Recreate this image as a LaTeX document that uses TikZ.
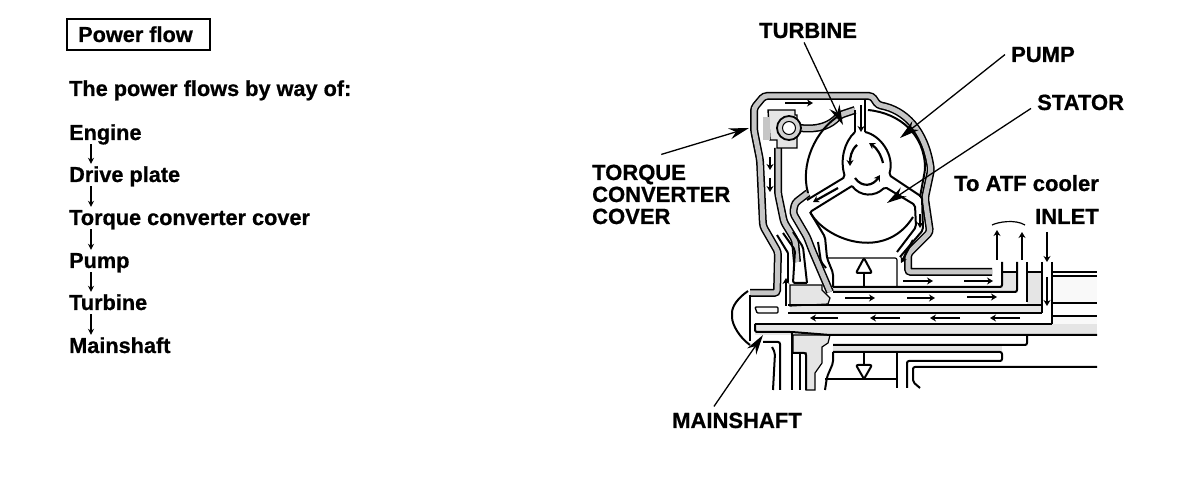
\documentclass[tikz,border=0pt]{standalone}
\usepackage{fontspec}
\setmainfont{Liberation Sans}[BoldFeatures={FakeBold=0.7}]
\usetikzlibrary{arrows.meta}

\begin{document}
\begin{tikzpicture}[x=1pt,y=-1pt]
        \tikzset{steptext/.style={font=\fontsize{21.7}{22}\bfseries\selectfont,anchor=base west,inner sep=0pt,text height=14pt,text depth=4pt},
            parttext/.style={font=\fontsize{22}{22}\bfseries\selectfont,anchor=base west,inner sep=0pt,align=left},
            steparrow/.style={line width=1.2pt,-{Stealth[length=6pt,width=6pt]},shorten >=4pt},
            leader/.style={line width=1.3pt,-{Stealth[length=20pt,width=11pt]}},
            flowmark/.style={line width=2.2pt,-{Stealth[length=6pt,width=7pt]}},
            wall/.style={line width=1.5pt,draw=black,double=gray!45,double distance=5pt,rounded corners=3pt},
            stipple/.style={fill=gray!20,draw=none},
            sparse/.style={fill=gray!5,draw=none},
            edge1/.style={line width=2pt,rounded corners=2pt},
            edge2/.style={line width=1.2pt,rounded corners=2pt}}
        \useasboundingbox (0,0) rectangle (1200,502);
        \fill[white] (0,0) rectangle (1200,502);

        \node[draw,line width=1.4pt,minimum width=143pt,minimum height=31pt,inner sep=0pt] (titlebox) at (138.5,34.5) {};
        \node[steptext] (title) at (78,42) {Power flow};
        \node[steptext] (intro) at (69,96) {The power flows by way of:};
        \node[steptext] (engine) at (69,140) {Engine};
        \node[steptext] (plate) at (69,182) {Drive plate};
        \node[steptext] (cover) at (69,225) {Torque converter cover};
        \node[steptext] (pump) at (69,268) {Pump};
        \node[steptext] (turbine) at (69,310) {Turbine};
        \node[steptext] (shaft) at (69,353) {Mainshaft};
        \foreach \from/\to in {engine/plate,plate/cover,cover/pump,pump/turbine,turbine/shaft}
            \draw[steparrow] ([xshift=22pt]\from.south west) -- ([xshift=22pt]\to.north west);

        \fill[sparse] (1052,275) rectangle (1097,303);
        \fill[sparse] (1052,316) rectangle (1097,335);
        \fill[stipple] (755,324) rectangle (1097,335);
        \fill[stipple] (790,305) rectangle (1042,313);
        \fill[stipple] (833,287) rectangle (1002,292);
        \fill[stipple] (1002,272) -- (1017,272) -- (1017,292) -- (1002,292) -- cycle;
        \fill[stipple] (1027,272) rectangle (1042,305);
        \fill[stipple] (833,345) rectangle (1002,352);
        \filldraw[stipple,draw=black,line width=1.2pt] (790,285) -- (822,285) -- (822,290) -- (830,298) -- (828,304) -- (790,306) -- cycle;
        \filldraw[stipple,draw=black,line width=1.2pt] (793,335) -- (830,335) -- (828,343) -- (822,347) -- (822,363) -- (815,373) -- (815,390) -- (806,390) -- (806,353) -- (793,353) -- cycle;

        \draw[wall] (750,293) -- (777,293) -- (778,252) -- (763,226) -- (760,160) -- (754,130) -- (754,108) -- (764,96) -- (872,96) -- (878,105)
            .. controls (905,110) and (925,130) .. (931,170) -- (925,198) -- (930,232) -- (908,254) -- (908,272) -- (992,272);
        \draw[wall] (778,148) -- (778,193) -- (784,222) -- (795,240) -- (797,262);
        \draw[wall] (800,128) .. controls (820,130) and (830,125) .. (840,115) -- (855,110);
        \draw[wall] (808,193) -- (795,203) -- (793,213) -- (807,237) -- (812,250) -- (818,264) -- (830,292);

        \draw[edge1] (865,99) -- (865,132);
        \draw[edge1] (855,110) -- (855,132);
        \draw[edge1] (840,115) .. controls (815,130) and (800,165) .. (808,193);
        \draw[edge1] (868,110) .. controls (900,113) and (925,135) .. (925,170) -- (920,197);
        \draw[edge1] (855,132) .. controls (844,142) and (840,160) .. (845,177) -- (807,200);
        \draw[edge1] (865,132) .. controls (880,135) and (895,155) .. (889,175) -- (922,197) -- (923,230) -- (900,257);
        \draw[edge1] (852,186) .. controls (860,197) and (875,197) .. (885,187) -- (915,205) -- (916,227) -- (897,252);
        \draw[edge1] (852,186) -- (810,212) -- (825,237) -- (827,258) -- (833,273) -- (833,287);
        \draw[edge1] (810,212) .. controls (825,240) and (885,262) .. (913,217);
        \draw[edge2] (827,258) -- (897,258) -- (897,287);

        \filldraw[stipple,draw=black,line width=1.4pt] (768,110) -- (795,110) -- (795,115) -- (797,115) -- (797,148) -- (777,148) -- (777,140) -- (770,140) -- cycle;
        \fill[gray!45] (763,117) rectangle (770,140);
        \node[circle,fill=gray!35,draw,line width=1.8pt,minimum size=24pt,inner sep=0pt] (lugout) at (789,128) {};
        \node[circle,fill=white,draw,line width=1pt,minimum size=13pt,inner sep=0pt] (lugin) at (789,128) {};

        \draw[edge1] (788,253) -- (788,282);
        \draw[edge1] (777,235) -- (788,253);
        \draw[edge1] (783,233) -- (795,250) -- (793,283) -- (807,283);
        \draw[edge1] (793,232) -- (803,247) -- (807,283);
        \draw[edge1] (818,242) -- (821,262) -- (826,268);

        \draw[edge1] (748,291) .. controls (738,298) and (732,306) .. (732,315) .. controls (732,325) and (740,338) .. (750,345);
        \draw[edge1] (750,295) -- (750,341);
        \filldraw[sparse,draw=black,line width=1.4pt,rounded corners=1pt] (755,307) -- (778,307) -- (778,313) -- (757,313) -- cycle;

        \draw[edge1] (788,305) -- (1042,305);
        \draw[edge1] (788,313) -- (1042,313);
        \draw[edge1] (755,324) -- (1052,324);
        \draw[edge1] (755,324) -- (755,332) -- (792,332) -- (830,335) -- (1097,335);
        \draw[edge1] (833,287) -- (1002,287) -- (1002,262);
        \draw[edge1] (833,292) -- (1017,292) -- (1017,262);
        \draw[edge1] (1027,262) -- (1027,302);
        \draw[edge1] (1042,262) -- (1042,313);
        \draw[edge1] (1052,262) -- (1052,324);
        \draw[edge1] (1002,272) -- (1017,272);
        \draw[edge1] (1027,272) -- (1042,272);
        \draw[edge1] (1052,272) -- (1097,272);
        \draw[edge2] (1052,276) -- (1097,276);
        \draw[edge1] (1052,303) -- (1097,303);
        \draw[edge1] (1052,316) -- (1097,316);
        \draw[edge1] (833,345) -- (1027,345) -- (1027,335);
        \draw[edge1] (833,352) -- (1002,352) -- (1002,361) -- (907,361) -- (907,388);

        \draw[edge1] (763,342) -- (780,342) -- (780,390);
        \draw[edge1] (772,347) -- (775,353) -- (773,390);
        \draw[edge1] (792,332) -- (792,390);
        \draw[edge1] (793,353) -- (806,353) -- (806,390);
        \draw[edge1] (800,353) -- (800,390);
        \draw[edge1] (833,352) -- (833,363) -- (827,377) -- (825,390);
        \draw[edge1] (825,379) -- (897,379);
        \draw[edge1] (897,352) -- (897,388);
        \draw[edge1] (920,388) -- (913,382) -- (913,367) -- (1097,367);

        \draw[edge2] (864,262) -- (864,286);
        \draw[edge1,fill=white] (864,258) -- (872,273) -- (856,273) -- cycle;
        \draw[edge2] (864,353) -- (864,365);
        \draw[edge1,fill=white] (864,379) -- (872,365) -- (856,365) -- cycle;

        \draw[flowmark] (785,103) -- (813,103);
        \draw[flowmark] (770,157) -- (770,170);
        \draw[flowmark] (770,178) -- (770,192);
        \draw[flowmark] (861,105) -- (861,132);
        \draw[flowmark] (838,188) -- (813,202);
        \draw[flowmark] (920,214) -- (920,228);
        \draw[flowmark] (913,240) -- (901,263);
        \draw[flowmark] (786,306) -- (786,278);
        \draw[flowmark] (845,298) -- (875,298);
        \draw[flowmark] (907,298) -- (935,298);
        \draw[flowmark] (903,281) -- (933,281);
        \draw[flowmark] (964,281) -- (993,281);
        \draw[flowmark] (967,297) -- (997,297);
        \draw[flowmark] (838,318) -- (810,318);
        \draw[flowmark] (900,318) -- (870,318);
        \draw[flowmark] (960,318) -- (930,318);
        \draw[flowmark] (1020,318) -- (990,318);
        \draw[flowmark] (997,260) -- (997,230);
        \draw[flowmark] (1022,260) -- (1022,232);
        \draw[flowmark] (1047,232) -- (1047,262);
        \draw[flowmark] (1047,277) -- (1047,306);
        \draw[flowmark] (857,145) .. controls (851,150) and (850,158) .. (850,166);
        \draw[flowmark] (883,163) .. controls (881,155) and (877,148) .. (869,143);
        \draw[flowmark] (855,178) .. controls (862,188) and (873,186) .. (880,175);
        \draw[line width=1.2pt] (992,225) .. controls (998,222) and (1015,219) .. (1025,225);

        \node[parttext] (turbinelabel) at (759,38) {TURBINE};
        \node[parttext] (pumplabel) at (1011,62) {PUMP};
        \node[parttext] (statorlabel) at (1037,110) {STATOR};
        \node[parttext] (coolerlabel) at (954,191) {To ATF cooler};
        \node[parttext] (inletlabel) at (1035,224) {INLET};
        \node[parttext] (coverlabel) at (592,224) {TORQUE\\CONVERTER\\COVER};
        \node[parttext] (shaftlabel) at (672,428) {MAINSHAFT};
        \coordinate (turbinetip) at (843,125);
        \coordinate (pumptip) at (900,138);
        \coordinate (statortip) at (887,203);
        \coordinate (covertip) at (749,128);
        \coordinate (shafttip) at (763,335);
        \draw[leader] (turbinelabel.south) ++(-4,4) -- (turbinetip);
        \draw[leader] (pumplabel.west) ++(-6,0) -- (pumptip);
        \draw[leader] (statorlabel.west) ++(-6,6) -- (statortip);
        \draw[leader] (coverlabel.north) ++(0,-10) -- (covertip);
        \draw[leader] (shaftlabel.north) ++(-23,-6) -- (shafttip);
    \end{tikzpicture}
\end{document}
